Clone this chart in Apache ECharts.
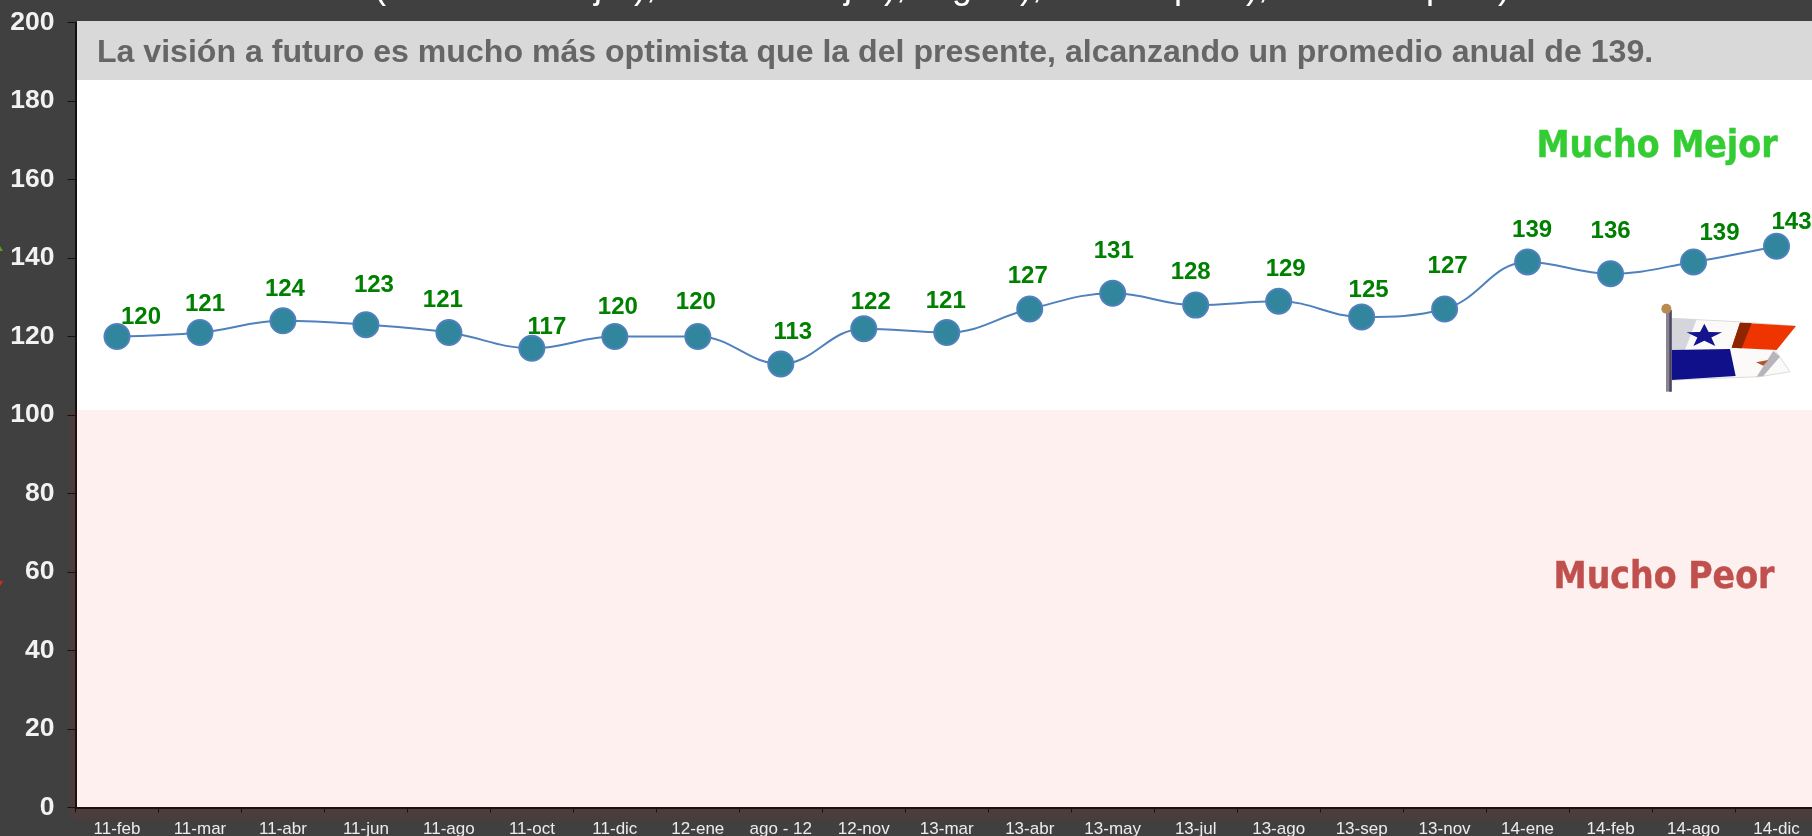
<!DOCTYPE html>
<html><head><meta charset="utf-8">
<style>html,body{margin:0;padding:0;background:#404040;overflow:hidden}#c{width:1812px;height:836px}</style>
<script src="https://cdn.jsdelivr.net/npm/echarts@6/dist/echarts.min.js"></script>
</head><body><div id="c"></div>
<script>
const categories = ['11-feb','11-mar','11-abr','11-jun','11-ago','11-oct','11-dic','12-ene','ago - 12','12-nov','13-mar','13-abr','13-may','13-jul','13-ago','13-sep','13-nov','14-ene','14-feb','14-ago','14-dic'];
const values = [120,121,124,123,121,117,120,120,113,122,121,127,131,128,129,125,127,139,136,139,143];
const labelNudge = [[24,-20],[5,-29],[2,-32],[8,-40],[-6,-33],[15,-22],[3,-30],[-2,-35],[12,-33],[7,-27],[-1,-32],[-2,-34],[1,-42.5],[-5,-33.5],[7,-33],[7,-28],[3,-44],[4.5,-33],[0,-43],[26,-30],[15,-25]];
const headline = 'La visión a futuro es mucho más optimista que la del presente, alcanzando un promedio anual de 139.';
const titleParts = [['(Mucho     mejor),',656],['Mejor),',906],['Igual),',1042],['peor),',1268],['mucho peor)',1510]];

const chart = echarts.init(document.getElementById('c'), null, {renderer:'canvas'});
const star = [];
for (let i=0;i<10;i++){const r=i%2?22:56,a=-Math.PI/2+i*Math.PI/5;star.push([433+r*Math.cos(a),408+r*Math.sin(a)*0.66]);}
const flag = {type:'group',x:1560,y:200,scaleX:1/3,scaleY:1/3,z:3,silent:true,children:[
  {type:'polygon',shape:{points:[[335,355],[530,365],[705,378],[645,450],[690,515],[600,530],[335,540]]},style:{fill:'#fbfaf8',stroke:'#dcdcdc',lineWidth:3}},
  {type:'polygon',shape:{points:[[335,355],[410,358],[375,450],[335,450]]},style:{fill:'#d5d5dc'}},
  {type:'polygon',shape:{points:[[335,450],[510,447],[527,528],[335,540]]},style:{fill:'#10108a'}},
  {type:'polygon',shape:{points:[[540,368],[708,378],[650,450],[515,443]]},style:{fill:'#ee3500'}},
  {type:'polygon',shape:{points:[[540,368],[575,370],[545,445],[515,443]]},style:{fill:'#8c2500'}},
  {type:'polygon',shape:{points:[[640,452],[660,470],[610,528],[590,530]]},style:{fill:'#b8b4bc'}},
  {type:'polygon',shape:{points:star},style:{fill:'#14148f'}},
  {type:'polygon',shape:{points:[[588,487],[625,480],[610,497]]},style:{fill:'#b5522a'}},
  {type:'rect',shape:{x:318,y:330,width:17,height:245},style:{fill:'#8a8492'}},
  {type:'rect',shape:{x:328,y:330,width:7,height:245},style:{fill:'#4a4660'}},
  {type:'circle',shape:{cx:319,cy:326,r:15},style:{fill:'#b98b50'}}
]};
chart.setOption({
  backgroundColor:'#404040',
  animation:false,
  grid:{left:75.5,top:22.5,width:1742.5,height:785,show:true,backgroundColor:'#ffffff',borderWidth:0,outerBoundsMode:'none'},
  xAxis:{type:'category',data:categories,
    axisLine:{lineStyle:{color:'#111',width:2}},
    axisTick:{show:true,length:5,lineStyle:{color:'#111',width:1}},
    axisLabel:{interval:0,color:'#ececec',fontFamily:'Liberation Sans',fontSize:17,margin:13},
    splitLine:{show:false}},
  yAxis:{type:'value',min:0,max:200,interval:20,
    axisLine:{show:true,lineStyle:{color:'#111',width:2}},
    axisTick:{show:true,length:8,lineStyle:{color:'#111',width:1}},
    axisLabel:{color:'#f2f2f2',fontFamily:'Liberation Sans',fontWeight:'bold',fontSize:26.5,margin:21,padding:[6,0,0,0]},
    splitLine:{show:false}},
  series:[{type:'line',data:values.map((v,i)=>({value:v,label:{offset:[labelNudge[i][0],labelNudge[i][1]+1]}})),
    smooth:0.4,z:5,
    symbol:'circle',symbolSize:25,
    lineStyle:{color:'#4f81bd',width:2},
    itemStyle:{color:'#31859c',borderColor:'#4f81bd',borderWidth:2},
    label:{show:true,position:'inside',color:'#008000',fontFamily:'Liberation Sans',fontWeight:'bold',fontSize:24}
  }],
  graphic:[
    {type:'rect',z:1,silent:true,shape:{x:70,y:410,width:1742,height:409},style:{fill:'rgba(240,20,0,0.063)'}},
    {type:'rect',z:1,silent:true,shape:{x:77,y:21,width:1735,height:59},style:{fill:'#d9d9d9'}},
    {type:'text',z:3,silent:true,x:97,y:53,style:{text:headline,fill:'#666666',font:'bold 32.1px "Liberation Sans"',textVerticalAlign:'middle'}},
    {type:'text',z:3,silent:true,x:1657,y:147,style:{text:'Mucho Mejor',fill:'#33cc33',stroke:'#33cc33',lineWidth:0.4,font:'bold 37px "DejaVu Sans Condensed"',textAlign:'center',textVerticalAlign:'middle'}},
    {type:'text',z:3,silent:true,x:1664,y:578,style:{text:'Mucho Peor',fill:'#c0504d',stroke:'#c0504d',lineWidth:0.4,font:'bold 37px "DejaVu Sans Condensed"',textAlign:'center',textVerticalAlign:'middle'}},
    ...titleParts.map(p=>({type:'text',z:3,silent:true,x:p[1],y:6,style:{text:p[0],fill:'#ffffff',font:'36px "Liberation Sans"',textAlign:'right',textVerticalAlign:'bottom'}})),
    {type:'polygon',z:3,silent:true,shape:{points:[[0,251],[3,251],[0,246]]},style:{fill:'#4aa61a'}},
    {type:'polygon',z:3,silent:true,shape:{points:[[0,581],[3,581],[0,586]]},style:{fill:'#e02a10'}},
    flag
  ]
});
</script></body></html>
